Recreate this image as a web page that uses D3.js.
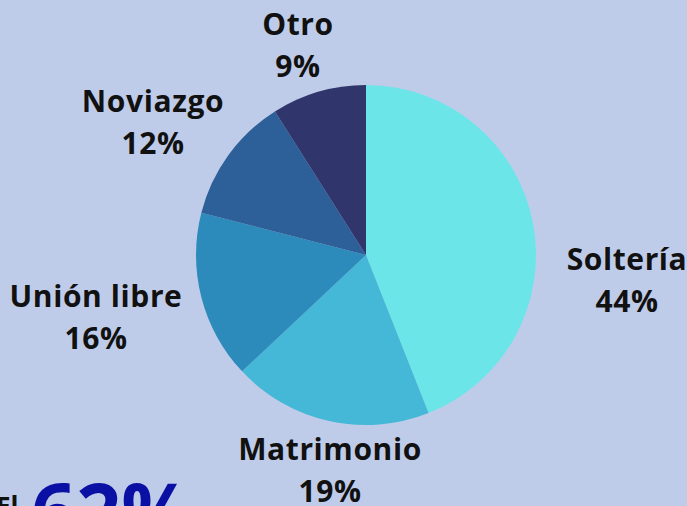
<!DOCTYPE html>
<html lang='es'>
<head>
  <meta charset='UTF-8'/>
  <title>Estado civil</title>
  <script src='https://d3js.org/d3.v7.min.js'></script>
  <style>
    body { margin: 0; background: #bfcce9; overflow: hidden; }
    text { font-family: 'Open Sans', sans-serif; font-weight: 700; }
  </style>
</head>
<body>
  <svg id='chart' width='687' height='506'></svg>
<script>
// data
const categories = ['Soltería', 'Matrimonio', 'Unión libre', 'Noviazgo', 'Otro'];
const values = [44, 19, 16, 12, 9];
const colors = ['#6ce5e9', '#45b8d8', '#2d8bbb', '#2d5f98', '#30356b'];
// label anchor: center x and baseline of first line
const labelPos = [[627, 270], [330, 460], [96, 307], [153, 112], [298, 35]];

const svg = d3.select('#chart');
const cx = 366, cy = 255, radius = 170;

const pie = d3.pie().sort(null).value(d => d)(values);
const arc = d3.arc().innerRadius(0).outerRadius(radius);

const g = svg.append('g').attr('transform', `translate(${cx},${cy})`);
g.selectAll('path').data(pie).enter()
  .append('path')
  .attr('d', arc)
  .attr('fill', (d, i) => colors[i]);

const labels = svg.selectAll('.lbl').data(pie).enter()
  .append('text')
  .attr('class', 'lbl')
  .attr('text-anchor', 'middle')
  .attr('font-size', 30)
  .attr('letter-spacing', 0.6)
  .attr('fill', '#111');

labels.append('tspan')
  .attr('x', (d, i) => labelPos[i][0])
  .attr('y', (d, i) => labelPos[i][1])
  .text((d, i) => categories[i]);
labels.append('tspan')
  .attr('x', (d, i) => labelPos[i][0])
  .attr('y', (d, i) => labelPos[i][1] + 42)
  .text(d => d.value + '%');

// cut-off headline at the bottom
svg.append('text')
  .attr('x', -4).attr('y', 516)
  .attr('font-size', 26).attr('fill', '#111')
  .text('El');
svg.append('text')
  .attr('x', 31).attr('y', 540)
  .attr('font-size', 79).attr('fill', '#0a10a3')
  .text('62%');
</script>
</body>
</html>
